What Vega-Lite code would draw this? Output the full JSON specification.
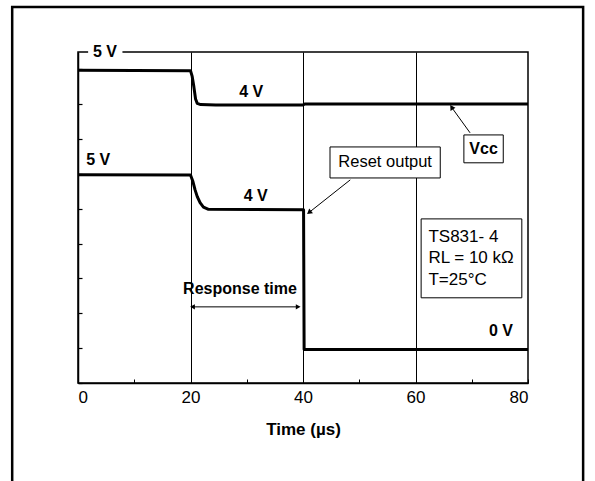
{
  "$schema": "https://vega.github.io/schema/vega-lite/v6.json",
  "width": 450,
  "height": 331,
  "autosize": {"type": "none"},
  "padding": {"left": 78, "top": 52, "right": 67, "bottom": 98},
  "background": "white",
  "config": {
    "view": {"stroke": "black", "strokeWidth": 1.5},
    "font": "Liberation Sans"
  },
  "datasets": {
    "curves": [
      {"t": 0, "v": 17.95, "s": "Vcc"},
      {"t": 20, "v": 17.93, "s": "Vcc"},
      {"t": 20.3, "v": 17.6, "s": "Vcc"},
      {"t": 20.6, "v": 17.0, "s": "Vcc"},
      {"t": 20.9, "v": 16.3, "s": "Vcc"},
      {"t": 21.2, "v": 16.05, "s": "Vcc"},
      {"t": 21.8, "v": 15.98, "s": "Vcc"},
      {"t": 24.5, "v": 15.96, "s": "Vcc"},
      {"t": 40, "v": 15.96, "s": "Vcc"},
      {"t": 40.3, "v": 16.02, "s": "Vcc"},
      {"t": 80, "v": 16.02, "s": "Vcc"},
      {"t": 0, "v": 11.95, "s": "Reset"},
      {"t": 20, "v": 11.94, "s": "Reset"},
      {"t": 20.4, "v": 11.6, "s": "Reset"},
      {"t": 20.8, "v": 11.1, "s": "Reset"},
      {"t": 21.2, "v": 10.7, "s": "Reset"},
      {"t": 21.7, "v": 10.35, "s": "Reset"},
      {"t": 22.3, "v": 10.1, "s": "Reset"},
      {"t": 23.2, "v": 9.97, "s": "Reset"},
      {"t": 40.1, "v": 9.95, "s": "Reset"},
      {"t": 40.2, "v": 1.92, "s": "Reset"},
      {"t": 80, "v": 1.92, "s": "Reset"}
    ],
    "boldLabels": [
      {"t": 4.8, "v": 19.0, "label": "5 V"},
      {"t": 30.8, "v": 16.72, "label": "4 V"},
      {"t": 3.6, "v": 12.8, "label": "5 V"},
      {"t": 31.6, "v": 10.74, "label": "4 V"},
      {"t": 75.2, "v": 2.96, "label": "0 V"},
      {"t": 28.8, "v": 5.41, "label": "Response time"},
      {"t": 72.1, "v": 13.43, "label": "Vcc"}
    ],
    "boxes": [
      {"x1": 44.8, "x2": 64.4, "y1": 13.55, "y2": 11.77},
      {"x1": 68.6, "x2": 75.6, "y1": 14.24, "y2": 12.64},
      {"x1": 61.0, "x2": 78.9, "y1": 9.42, "y2": 4.89}
    ],
    "normalLabels": [
      {"t": 54.6, "v": 12.66, "label": "Reset output"}
    ],
    "infoLabels": [
      {"t": 62.3, "v": 8.39, "label": "TS831- 4"},
      {"t": 62.3, "v": 7.19, "label": "RL = 10 kΩ"},
      {"t": 62.3, "v": 5.92, "label": "T=25°C"}
    ],
    "arrows": [
      {"t": 48.4, "v": 11.66, "a": "reset"},
      {"t": 41.2, "v": 9.82, "a": "reset"},
      {"t": 69.7, "v": 14.36, "a": "vcc"},
      {"t": 66.5, "v": 15.79, "a": "vcc"},
      {"t": 20.5, "v": 4.37, "a": "resp"},
      {"t": 39.0, "v": 4.37, "a": "resp"}
    ],
    "frame": [{"x1": -11.7, "x2": 89.8, "y1": 21.58, "y2": -6.4}],
    "knockout": [{"x1": 1.8, "x2": 7.9, "y1": 19.45, "y2": 18.55}]
  },
  "layer": [
    {
      "data": {"name": "frame"},
      "mark": {"type": "rect", "fill": null, "stroke": "black", "strokeWidth": 2.5, "clip": false},
      "encoding": {
        "x": {"field": "x1", "type": "quantitative", "scale": {"domain": [0, 80], "nice": false, "zero": false},
          "axis": {
            "values": [0, 10, 20, 30, 40, 50, 60, 70, 80],
            "labelExpr": "datum.value % 20 == 0 ? datum.label : ''",
            "labelFont": "Liberation Sans", "labelFontSize": 17, "labelColor": "black",
            "labelPadding": 10,
            "tickSize": -4, "tickColor": "black", "tickWidth": 1,
            "domainColor": "black", "domainWidth": 1.5,
            "grid": true, "gridColor": "black", "gridWidth": 1,
            "gridOpacity": {"condition": {"test": "datum.value % 20 == 0 && datum.value > 0 && datum.value < 80", "value": 1}, "value": 0},
            "title": "Time (µs)", "titleFont": "Liberation Sans", "titleFontSize": 17, "titleFontWeight": "bold", "titleColor": "black", "titlePadding": 16
          }},
        "x2": {"field": "x2"},
        "y": {"field": "y1", "type": "quantitative", "scale": {"domain": [0, 19], "nice": false, "zero": false},
          "axis": {
            "values": [0, 1, 2, 3, 4, 5, 6, 7, 8, 9, 10, 11, 12, 13, 14, 15, 16, 17, 18, 19],
            "tickCount": 19,
            "labels": false, "tickSize": -4, "tickColor": "black", "tickWidth": 1.2,
            "domainColor": "black", "domainWidth": 1.5, "grid": false, "title": null
          }},
        "y2": {"field": "y2"}
      }
    },
    {
      "data": {"name": "curves"},
      "mark": {"type": "line", "color": "black", "strokeWidth": 3, "strokeJoin": "round"},
      "encoding": {
        "x": {"field": "t", "type": "quantitative"},
        "y": {"field": "v", "type": "quantitative"},
        "detail": {"field": "s"},
        "order": {"field": "t"}
      }
    },
    {
      "data": {"name": "knockout"},
      "mark": {"type": "rect", "fill": "white", "clip": false},
      "encoding": {
        "x": {"field": "x1", "type": "quantitative"},
        "x2": {"field": "x2"},
        "y": {"field": "y1", "type": "quantitative"},
        "y2": {"field": "y2"}
      }
    },
    {
      "data": {"name": "boxes"},
      "mark": {"type": "rect", "fill": "white", "stroke": "black", "strokeWidth": 1},
      "encoding": {
        "x": {"field": "x1", "type": "quantitative"},
        "x2": {"field": "x2"},
        "y": {"field": "y1", "type": "quantitative"},
        "y2": {"field": "y2"}
      }
    },
    {
      "data": {"name": "arrows"},
      "mark": {"type": "line", "color": "black", "strokeWidth": 1},
      "encoding": {
        "x": {"field": "t", "type": "quantitative"},
        "y": {"field": "v", "type": "quantitative"},
        "detail": {"field": "a"}
      }
    },
    {
      "data": {"name": "arrows"},
      "transform": [{"filter": "datum.a == 'reset' && datum.t < 45"}],
      "mark": {"type": "point", "shape": "triangle", "filled": true, "color": "black", "size": 35, "angle": 231, "opacity": 1},
      "encoding": {"x": {"field": "t", "type": "quantitative"}, "y": {"field": "v", "type": "quantitative"}}
    },
    {
      "data": {"name": "arrows"},
      "transform": [{"filter": "datum.a == 'vcc' && datum.t < 68"}],
      "mark": {"type": "point", "shape": "triangle", "filled": true, "color": "black", "size": 35, "angle": 327, "opacity": 1},
      "encoding": {"x": {"field": "t", "type": "quantitative"}, "y": {"field": "v", "type": "quantitative"}}
    },
    {
      "data": {"name": "arrows"},
      "transform": [{"filter": "datum.a == 'resp' && datum.t < 30"}],
      "mark": {"type": "point", "shape": "triangle", "filled": true, "color": "black", "size": 30, "angle": 270, "opacity": 1},
      "encoding": {"x": {"field": "t", "type": "quantitative"}, "y": {"field": "v", "type": "quantitative"}}
    },
    {
      "data": {"name": "arrows"},
      "transform": [{"filter": "datum.a == 'resp' && datum.t > 30"}],
      "mark": {"type": "point", "shape": "triangle", "filled": true, "color": "black", "size": 30, "angle": 90, "opacity": 1},
      "encoding": {"x": {"field": "t", "type": "quantitative"}, "y": {"field": "v", "type": "quantitative"}}
    },
    {
      "data": {"name": "boldLabels"},
      "mark": {"type": "text", "font": "Liberation Sans", "fontSize": 16, "fontWeight": "bold", "color": "black", "align": "center", "baseline": "middle"},
      "encoding": {
        "x": {"field": "t", "type": "quantitative"},
        "y": {"field": "v", "type": "quantitative"},
        "text": {"field": "label"}
      }
    },
    {
      "data": {"name": "normalLabels"},
      "mark": {"type": "text", "font": "Liberation Sans", "fontSize": 16.5, "color": "black", "align": "center", "baseline": "middle"},
      "encoding": {
        "x": {"field": "t", "type": "quantitative"},
        "y": {"field": "v", "type": "quantitative"},
        "text": {"field": "label"}
      }
    },
    {
      "data": {"name": "infoLabels"},
      "mark": {"type": "text", "font": "Liberation Sans", "fontSize": 17, "color": "black", "align": "left", "baseline": "middle"},
      "encoding": {
        "x": {"field": "t", "type": "quantitative"},
        "y": {"field": "v", "type": "quantitative"},
        "text": {"field": "label"}
      }
    }
  ]
}
